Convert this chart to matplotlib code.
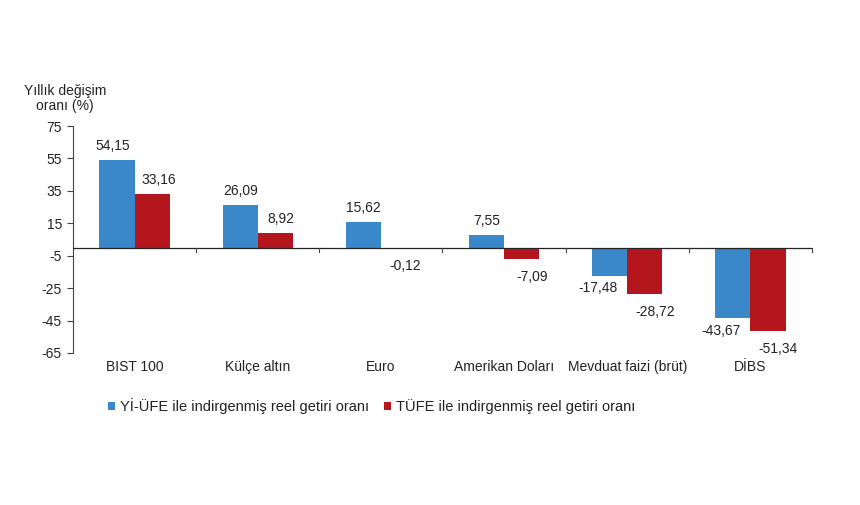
import matplotlib
matplotlib.use("Agg")
import matplotlib.pyplot as plt
import numpy as np

plt.rcParams['font.family'] = ['Liberation Sans', 'DejaVu Sans']

categories = ["BIST 100", "Külçe altın", "Euro", "Amerikan Doları", "Mevduat faizi (brüt)", "DİBS"]
yiufe = [54.15, 26.09, 15.62, 7.55, -17.48, -43.67]
tufe = [33.16, 8.92, -0.12, -7.09, -28.72, -51.34]
series_names = ["Yİ-ÜFE ile indirgenmiş reel getiri oranı", "TÜFE ile indirgenmiş reel getiri oranı"]
yticks = [75, 55, 35, 15, -5, -25, -45, -65]

# label nudges (pixels) to match the reference placement
blue_dx = [-4, 0, 0, 0, -12, -12]
red_dx = [7, 6, 7, 10, 10, 10]

blue = "#3a87c9"
red = "#b3161c"
txt = "#222222"
fs = 10
px = 0.72  # points per pixel at 100 dpi

fig = plt.figure(figsize=(8.6, 5.05), dpi=100)
ax = fig.add_axes([73/860, 1-353/505, (812-73)/860, (353-126)/505])

x = np.arange(len(categories))
w = 0.285
b1 = ax.bar(x - w/2, yiufe, w, color=blue, label=series_names[0], zorder=2)
b2 = ax.bar(x + w/2, tufe, w, color=red, label=series_names[1], zorder=2)

def fmt(v):
    return f"{v:.2f}".replace(".", ",")

for bars, vals, dxs, negoff in ((b1, yiufe, blue_dx, -3.8), (b2, tufe, red_dx, -7.8)):
    for rect, v, dx in zip(bars, vals, dxs):
        cx = rect.get_x() + rect.get_width() / 2
        if v >= 0:
            ax.annotate(fmt(v), (cx, v), xytext=(dx * px, 5), textcoords="offset points",
                        ha="center", va="bottom", fontsize=fs, color=txt)
        else:
            ax.annotate(fmt(v), (cx, v), xytext=(dx * px, negoff), textcoords="offset points",
                        ha="center", va="top", fontsize=fs, color=txt)

ax.set_xlim(-0.5, len(categories) - 0.5)
ax.set_ylim(-65, 75)
ax.set_yticks(yticks)
ax.set_yticklabels([str(t) for t in yticks], fontsize=fs, color=txt)
ax.tick_params(axis='y', direction='out', length=4, width=0.8, color="#444444", pad=4)

for s in ["top", "right", "bottom"]:
    ax.spines[s].set_visible(False)
ax.spines["left"].set_color("#444444")
ax.spines["left"].set_linewidth(0.8)

ax.axhline(0, color="#222222", linewidth=0.9, zorder=3)
ax.set_xticks([])
for b in np.arange(-0.5, len(categories), 1.0)[1:]:
    ax.plot([b, b], [0, -2.8], color="#444444", linewidth=0.8, clip_on=False, zorder=3)

for i, c in enumerate(categories):
    ax.text(i, -69.6, c, ha="center", va="top", fontsize=fs, color=txt)

fig.text(65/860, 1-91/505, "Yıllık değişim", ha="center", va="center", fontsize=fs, color=txt)
fig.text(65/860, 1-106/505, "oranı (%)", ha="center", va="center", fontsize=fs, color=txt)

leg = fig.legend(handles=[b1, b2], labels=series_names, loc="center left",
                 bbox_to_anchor=(95/860, 1-406/505), ncol=2, frameon=False,
                 fontsize=10.5, handlelength=0.45, handleheight=0.45, handletextpad=0.35,
                 columnspacing=1.05, labelcolor=txt)

fig.savefig("out.png", dpi=100, facecolor="white")
